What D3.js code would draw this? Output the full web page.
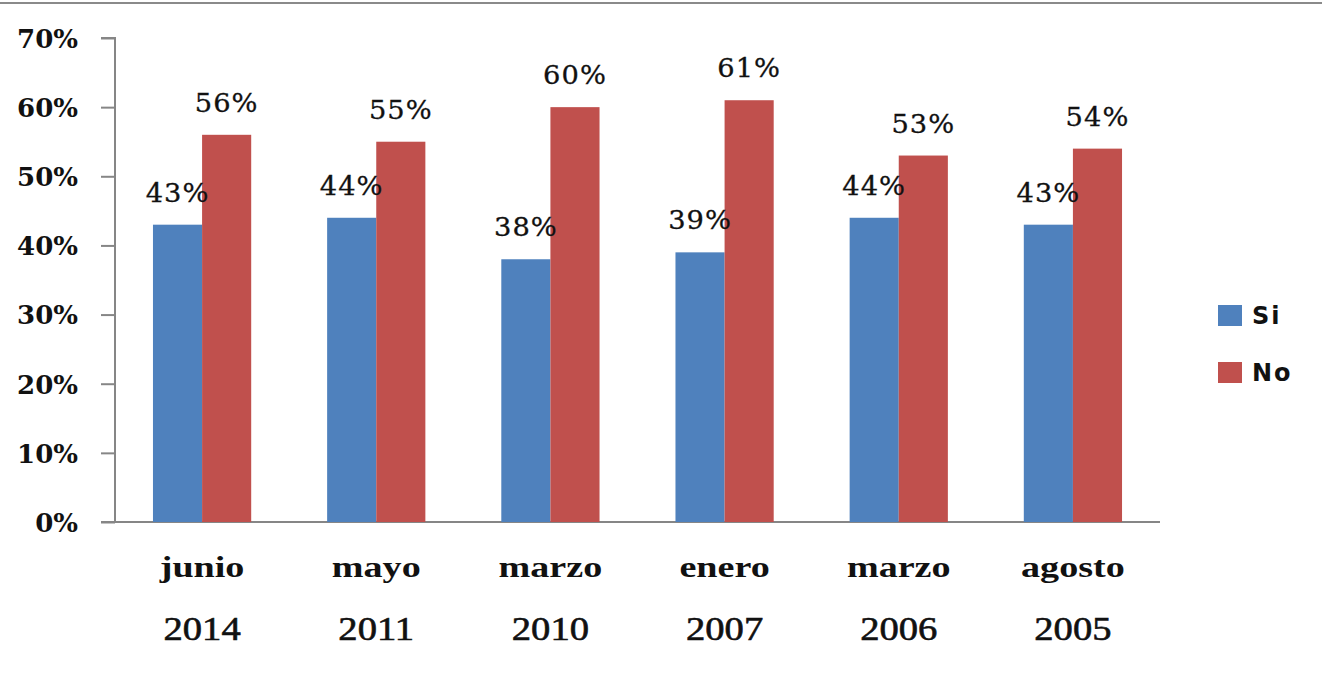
<!DOCTYPE html>
<html>
<head>
<meta charset="utf-8">
<script src="https://cdn.jsdelivr.net/npm/d3@7"></script>
<style>
  body { margin: 0; background: #fff; }
  #root { width: 1322px; height: 677px; }
</style>
</head>
<body>
<div id="root"></div>
<script>
const months = ['junio', 'mayo', 'marzo', 'enero', 'marzo', 'agosto'];
const years = ['2014', '2011', '2010', '2007', '2006', '2005'];
const si = [43, 44, 38, 39, 44, 43];
const no = [56, 55, 60, 61, 53, 54];
const seriesNames = ['Si', 'No'];
const colors = ['#4f81bd', '#c0504d'];

const root = document.getElementById('root');
const W = 1322, H = 677;
const plot = { left: 115, right: 1160, top: 38, bottom: 522 };

const svg = d3.select(root).append('svg')
    .attr('width', W)
    .attr('height', H);

// frame line at the top
svg.append('line')
    .attr('x1', 0).attr('x2', W)
    .attr('y1', 3).attr('y2', 3)
    .attr('stroke', '#8a8a8a')
    .attr('stroke-width', 2);

const idx = d3.range(months.length);

const x0 = d3.scaleBand()
    .domain(idx)
    .range([plot.left, plot.right])
    .paddingInner(0.436)
    .paddingOuter(0.218);

const x1 = d3.scaleBand()
    .domain([0, 1])
    .range([0, x0.bandwidth()]);

const y = d3.scaleLinear()
    .domain([0, 0.7])
    .range([plot.bottom, plot.top]);

// y axis
const yAxis = d3.axisLeft(y)
    .tickValues(d3.range(0, 0.71, 0.1))
    .tickFormat(d3.format('.0%'))
    .tickSize(14)
    .tickPadding(23);

const gy = svg.append('g')
    .attr('transform', `translate(${plot.left},0)`)
    .call(yAxis);
gy.select('.domain').attr('stroke', '#868686').attr('stroke-width', 2)
    .attr('d', `M-14,${plot.top}H0V${plot.bottom}`);
gy.selectAll('.tick line').attr('stroke', '#868686').attr('stroke-width', 2);
gy.selectAll('.tick text')
    .attr('font-family', '"DejaVu Serif", serif')
    .attr('font-weight', 'bold')
    .attr('font-size', 26)
    .attr('fill', '#111')
    .attr('dy', '0.36em');

// x axis line
svg.append('line')
    .attr('x1', plot.left - 14).attr('x2', plot.right)
    .attr('y1', y(0)).attr('y2', y(0))
    .attr('stroke', '#868686')
    .attr('stroke-width', 2);

// bars
const groups = svg.append('g').selectAll('g')
    .data(idx)
    .join('g')
    .attr('transform', i => `translate(${x0(i)},0)`);

groups.selectAll('rect')
    .data(i => [si[i], no[i]].map((v, s) => ({ v, s })))
    .join('rect')
    .attr('x', d => x1(d.s))
    .attr('y', d => y(d.v / 100))
    .attr('width', x1.bandwidth())
    .attr('height', d => y(0) - y(d.v / 100))
    .attr('fill', d => colors[d.s]);

// value labels
groups.selectAll('text')
    .data(i => [si[i], no[i]].map((v, s) => ({ v, s })))
    .join('text')
    .attr('transform', d => `translate(${x1(d.s) + x1.bandwidth() / 2},${y(d.v / 100) - 23}) scale(1.05,1)`)
    .attr('text-anchor', 'middle')
    .attr('font-family', '"DejaVu Serif", serif')
    .attr('font-size', 26)
    .attr('letter-spacing', 1)
    .attr('fill', '#111')
    .attr('stroke', '#111')
    .attr('stroke-width', 0.3)
    .text(d => d.v + '%');

// category labels
const cat = svg.append('g').selectAll('g')
    .data(idx)
    .join('g')
    .attr('transform', i => `translate(${x0(i) + x0.bandwidth() / 2},0)`);

cat.append('text')
    .attr('transform', 'translate(0,577) scale(1.27,1)')
    .attr('text-anchor', 'middle')
    .attr('font-family', '"Liberation Serif", serif')
    .attr('font-weight', 'bold')
    .attr('font-size', 30)
    .attr('fill', '#111')
    .text(i => months[i]);

cat.append('text')
    .attr('transform', 'translate(0,640) scale(1.17,1)')
    .attr('text-anchor', 'middle')
    .attr('font-family', '"Liberation Serif", serif')
    .attr('font-size', 33)
    .attr('fill', '#111')
    .attr('stroke', '#111')
    .attr('stroke-width', 0.6)
    .text(i => years[i]);

// legend
const legend = svg.append('g').selectAll('g')
    .data(seriesNames)
    .join('g')
    .attr('transform', (d, i) => `translate(1218,${305 + i * 57})`);

legend.append('rect')
    .attr('width', 24)
    .attr('height', 21)
    .attr('fill', (d, i) => colors[i]);

legend.append('text')
    .attr('x', 34)
    .attr('y', 19)
    .attr('font-family', '"DejaVu Sans", sans-serif')
    .attr('font-weight', 'bold')
    .attr('font-size', 24)
    .attr('letter-spacing', 2)
    .attr('fill', '#111')
    .text(d => d);
</script>
</body>
</html>
